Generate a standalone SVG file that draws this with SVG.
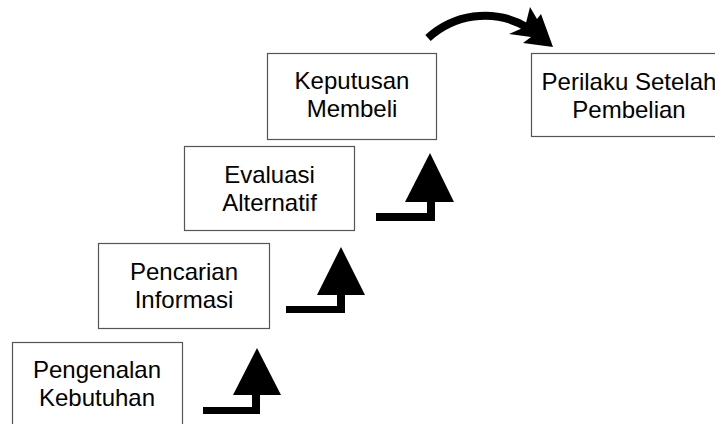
<svg xmlns="http://www.w3.org/2000/svg" width="715" height="424" viewBox="0 0 715 424">
<style>
.box{fill:#fff;stroke:#555;stroke-width:1.2}
.t{font-family:"Liberation Sans",Arial,sans-serif;font-size:24px;fill:#000;text-anchor:middle}
.ar{fill:#000}
</style>
<rect width="715" height="424" fill="#fff"/>
<g id="n1"><rect class="box" x="12.5" y="342.5" width="170" height="90"/><text class="t" x="97" y="378">Pengenalan</text><text class="t" x="97" y="406">Kebutuhan</text></g>
<g id="n2"><rect class="box" x="98.5" y="243.5" width="171" height="85"/><text class="t" x="184" y="280">Pencarian</text><text class="t" x="184" y="308">Informasi</text></g>
<g id="n3"><rect class="box" x="184.5" y="146.5" width="170" height="84"/><text class="t" x="269.5" y="183">Evaluasi</text><text class="t" x="269.5" y="211">Alternatif</text></g>
<g id="n4"><rect class="box" x="267.5" y="53.5" width="169" height="86"/><text class="t" x="352" y="89">Keputusan</text><text class="t" x="352" y="117">Membeli</text></g>
<g id="n5"><rect class="box" x="531.5" y="53.5" width="200" height="83"/><text class="t" x="629" y="90">Perilaku Setelah</text><text class="t" x="629" y="118">Pembelian</text></g>
<g id="connectors">
<polygon class="ar" points="203,407 252,407 252,393 260,393 260,414 203,414"/>
<polygon class="ar" points="257,348 281,395 233,395"/>
<polygon class="ar" points="286,306 337,306 337,292 345,292 345,313 286,313"/>
<polygon class="ar" points="341,247 365,295 317,295"/>
<polygon class="ar" points="376,213 427,213 427,199 435,199 435,221 376,221"/>
<polygon class="ar" points="430,153 454,202 405,202"/>
<path d="M428,38 C452,16 492,6 528,28" fill="none" stroke="#000" stroke-width="8"/>
<polygon class="ar" points="553,47 523,43 531,37 509,34 525,27 530,7 537,19 541,14"/>
</g>
</svg>
